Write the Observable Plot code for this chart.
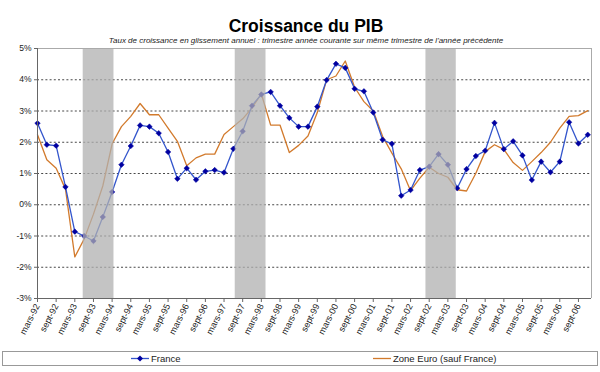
<!DOCTYPE html>
<html><head><meta charset="utf-8">
<script src="https://cdn.jsdelivr.net/npm/d3@7"></script>
<script src="https://cdn.jsdelivr.net/npm/@observablehq/plot@0.6"></script>
<style>
body{margin:0;background:#fff;font-family:Arial,"Liberation Sans",sans-serif;}
#wrap{position:relative;width:600px;height:372px;overflow:hidden;}
#title{position:absolute;left:0;width:612px;top:16px;line-height:20px;text-align:center;font-weight:bold;font-size:17.5px;color:#000;}
#sub{position:absolute;left:0;width:612px;top:36px;line-height:10px;text-align:center;font-style:italic;font-size:8px;color:#222;}
#chart{position:absolute;left:0;top:44px;}
#legend{position:absolute;left:2px;top:351px;width:596px;height:15px;border:1px solid #999;box-sizing:border-box;font-size:9.5px;color:#222;}
.item{position:absolute;top:0;height:13px;line-height:13px;}
.item svg{position:absolute;top:0;left:0;}
.item span{position:absolute;left:20px;white-space:nowrap;}
</style></head>
<body><div id="wrap">
<div id="title">Croissance du PIB</div>
<div id="sub">Taux de croissance en glissement annuel : trimestre année courante sur même trimestre de l'année précédente</div>
<div id="chart"></div>
<div id="legend">
  <div class="item" style="left:128px"><svg width="20" height="13"><line x1="0" x2="18" y1="6.5" y2="6.5" stroke="#3355cc" stroke-width="1.3"/><path d="M9,3.5L12,6.5L9,9.5L6,6.5Z" fill="#0000a0"/></svg><span>France</span></div>
  <div class="item" style="left:370px"><svg width="20" height="13"><line x1="0" x2="18" y1="6.5" y2="6.5" stroke="#d27a2c" stroke-width="1.3"/></svg><span>Zone Euro (sauf France)</span></div>
</div>
</div>
<script>
const tickLabels = ["mars-92","sept-92","mars-93","sept-93","mars-94","sept-94","mars-95","sept-95","mars-96","sept-96","mars-97","sept-97","mars-98","sept-98","mars-99","sept-99","mars-00","sept-00","mars-01","sept-01","mars-02","sept-02","mars-03","sept-03","mars-04","sept-04","mars-05","sept-05","mars-06","sept-06"];
// quarterly year-on-year growth, mars-92 .. dec-06 (60 quarters)
const france = [2.61,1.92,1.89,0.57,-0.86,-1.0,-1.16,-0.39,0.41,1.28,1.88,2.54,2.50,2.29,1.69,0.83,
  1.17,0.80,1.07,1.11,1.03,1.79,2.35,3.17,3.53,3.61,3.17,2.78,2.50,2.50,3.14,
  3.99,4.51,4.38,3.71,3.63,2.95,2.08,1.95,0.29,0.47,1.11,1.22,1.62,1.28,0.53,
  1.14,1.56,1.73,2.62,1.78,2.03,1.58,0.79,1.38,1.04,1.38,2.64,1.96,2.24];
const zoneEuro = [2.24,1.44,1.17,0.5,-1.67,-1.1,-0.3,0.6,1.95,2.5,2.83,3.24,2.88,2.88,2.45,2.03,
  1.25,1.5,1.62,1.62,2.25,2.5,2.75,3.1,3.55,2.55,2.55,1.67,1.9,2.2,2.95,
  4.0,4.12,4.6,3.76,3.3,3.0,2.19,1.65,1.15,0.45,0.85,1.2,1.0,0.88,0.48,
  0.44,1.01,1.70,1.92,1.77,1.35,1.1,1.38,1.67,2.0,2.45,2.83,2.85,3.01];
// shaded periods, in quarter index units
const bandStart = [4.9, 21.2, 41.65];
const bandEnd = [8.2, 24.5, 44.9];
const yTicks = [-3,-2,-1,0,1,2,3,4,5];
const gridLevels = [-2,-1,0,1,2,3,4];

const data = france.map((v,i)=>({q:i, france:v, euro:zoneEuro[i]}));
const bands = bandStart.map((s,i)=>({s, e:bandEnd[i]}));
const xTicks = tickLabels.map((_,k)=>k*2);

const chart = Plot.plot({
  width:600, height:306,
  marginLeft:37, marginRight:9, marginTop:4, marginBottom:52,
  style:{fontFamily:"Arial, 'Liberation Sans', sans-serif", fontSize:"8px", color:"#222", background:"transparent"},
  x:{type:"linear", domain:[0,59.4]},
  y:{domain:[-3,5]},
  marks:[
    Plot.ruleY(gridLevels,{stroke:"#333", strokeWidth:0.9, strokeDasharray:"2,2.2"}),
    Plot.line(data,{x:"q", y:"euro", stroke:"#d27a2c", strokeWidth:1.3}),
    Plot.line(data,{x:"q", y:"france", stroke:"#3355cc", strokeWidth:1.3}),
    Plot.dot(data,{x:"q", y:"france", symbol:"diamond2", r:2.5, fill:"#0000a0", stroke:"#0000a0", strokeWidth:0.5}),
    Plot.rect(bands,{x1:"s", x2:"e", fill:"#b0b0b0", fillOpacity:0.75}),
    Plot.ruleY([5],{stroke:"#aaa", strokeWidth:1}),
    Plot.ruleX([59.4],{stroke:"#aaa", strokeWidth:1}),
    Plot.ruleX([0],{stroke:"#666", strokeWidth:1}),
    Plot.ruleY([-3],{stroke:"#666", strokeWidth:1}),
    Plot.axisY({ticks:yTicks, tickFormat:d=>d+"%", tickSize:3, tickPadding:3, stroke:"#666", fontSize:8.5}),
    Plot.axisX({ticks:xTicks, tickFormat:i=>tickLabels[i/2], tickSize:4, tickPadding:2, tickRotate:-63, stroke:"#666", fontSize:9})
  ]
});
document.getElementById("chart").appendChild(chart);
</script>
</body></html>
